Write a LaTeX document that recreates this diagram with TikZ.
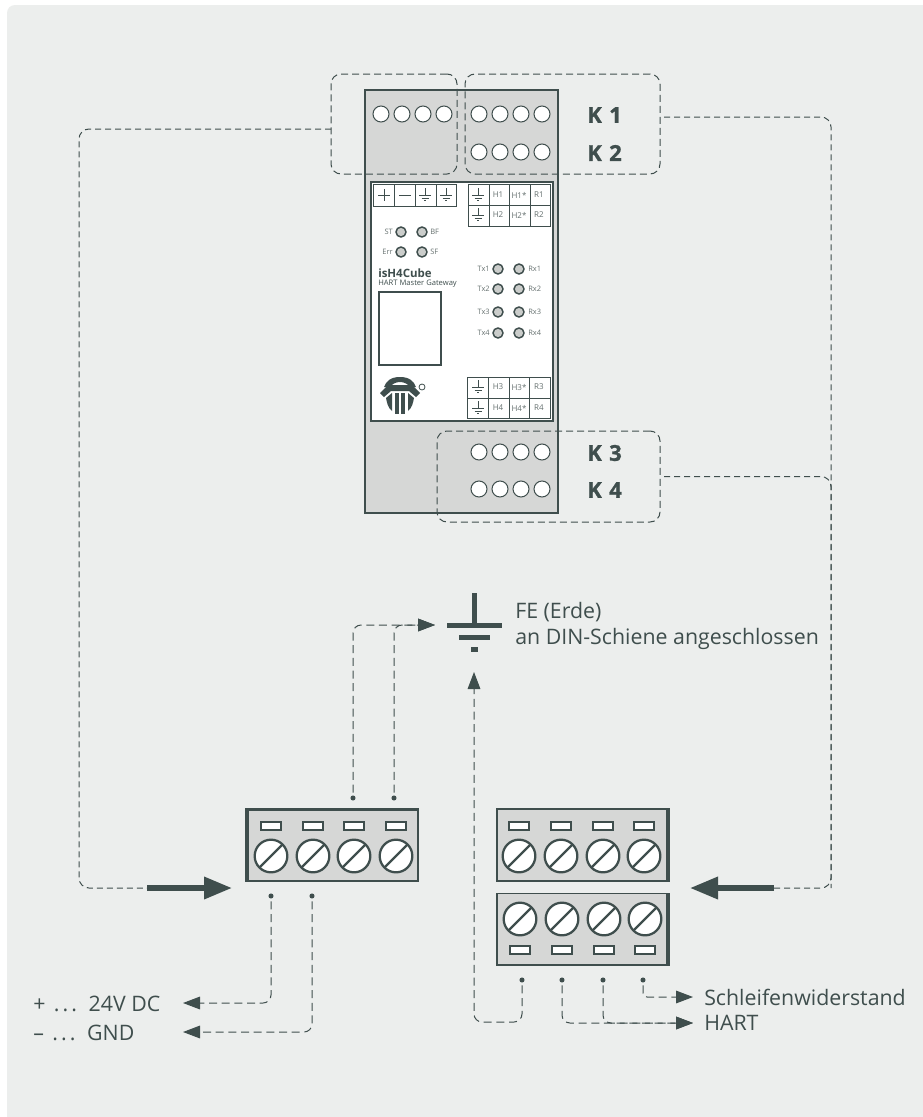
\documentclass[tikz,border=0pt]{standalone}
\usepackage{fontspec}
\setmainfont{Open Sans}
\newfontfamily\kfont{Open Sans}[BoldFeatures={FakeBold=1.2}]
\usetikzlibrary{arrows.meta}

\definecolor{panelbg}{HTML}{ECEEED}
\definecolor{devicegray}{HTML}{D6D7D6}
\definecolor{darkline}{HTML}{3F4E4D}
\definecolor{ledgray}{HTML}{CBCDCB}
\definecolor{celltext}{HTML}{667170}

\tikzset{
  kbox/.style={draw=darkline,line width=0.75pt,dash pattern=on 5.25pt off 3pt,rounded corners=7.5pt,inner sep=0pt,outer sep=0pt},
  wire/.style={draw=darkline,line width=0.75pt,dash pattern=on 4.5pt off 3pt,rounded corners=7.5pt},
  feedwire/.style={draw=darkline,line width=0.75pt,dash pattern=on 6pt off 3.5pt,rounded corners=6pt},
  smalltip/.style={-{Triangle[length=12.75pt,width=9.5pt]}},
  bigarrow/.style={draw=darkline,line width=4.2pt,-{Triangle[length=21pt,width=16pt]}},
  hole/.style={circle,draw=darkline,fill=white,line width=0.75pt,minimum size=12pt,inner sep=0pt,outer sep=0pt},
  led/.style={circle,draw=darkline,fill=ledgray,line width=1.1pt,minimum size=7.5pt,inner sep=0pt,outer sep=0pt},
  termdot/.style={circle,fill=darkline,minimum size=3.8pt,inner sep=0pt,outer sep=2.2pt},
  termblock/.style={draw=darkline,fill=devicegray,line width=0.9pt,minimum width=129pt,minimum height=54pt,inner sep=0pt,outer sep=0pt},
  slot/.style={draw=darkline,fill=white,line width=1.3pt,minimum width=14.5pt,minimum height=6.5pt,inner sep=0pt,outer sep=0pt},
  screw/.style={circle,draw=darkline,fill=white,line width=1.7pt,minimum size=24.5pt,inner sep=0pt,outer sep=0pt},
  slash/.style={draw=darkline,line width=1.7pt},
  celllabel/.style={text=celltext,font=\fontsize{6}{7}\selectfont,inner sep=0pt},
  ledlabel/.style={text=celltext,font=\fontsize{5.6}{7}\selectfont,inner sep=0pt},
  klabel/.style={text=darkline,font=\fontsize{16.5}{18}\selectfont\kfont\bfseries,anchor=west,inner sep=0pt},
  caption/.style={text=darkline,font=\fontsize{16}{18}\selectfont,anchor=west,inner sep=0pt},
  tableline/.style={draw=darkline,line width=0.7pt}
}

\newcommand{\gndmark}[2]{
  \draw [tableline] (#1,#2-7) -- (#1,#2);
  \draw [tableline] (#1-6,#2) -- (#1+6,#2);
  \draw [tableline] (#1-3.5,#2+3) -- (#1+3.5,#2+3);
  \draw [tableline] (#1-1,#2+5.5) -- (#1+1,#2+5.5);
}

\begin{document}
\begin{tikzpicture}[x=0.75pt,y=0.75pt,yscale=-1,xscale=1]
        \useasboundingbox (0,0) rectangle (922,1117);
        \fill [white] (0,0) rectangle (922,1117);
        \fill [panelbg,rounded corners=6pt] (7,5) -- (930,5) -- (930,1125) -- (7,1125) -- cycle;

        \draw [darkline,fill=devicegray,line width=1.1pt] (365,90) rectangle (558,513);
        \draw [darkline,fill=white,line width=1.1pt] (371,182) rectangle (553,421);
        \draw [darkline,line width=1.1pt] (379,292) rectangle (441,365);

        \foreach \x [count=\i] in {381,402,423,444} \node (holeP\i) [hole] at (\x,114) {};
        \foreach \x [count=\i] in {479,500,521,542} {
            \node (holeKa\i) [hole] at (\x,114) {};
            \node (holeKb\i) [hole] at (\x,152) {};
            \node (holeKc\i) [hole] at (\x,452) {};
            \node (holeKd\i) [hole] at (\x,489) {};
        }

        \node (boxPower) [kbox,minimum width=94.5pt,minimum height=75pt] at (394,124) {};
        \node (boxTop) [kbox,minimum width=146.25pt,minimum height=75pt] at (562.5,124) {};
        \node (boxBottom) [kbox,minimum width=167.25pt,minimum height=68.25pt] at (548.5,476.5) {};

        \node (labelKa) [klabel] at (587,115) {K\,\,1};
        \node (labelKb) [klabel] at (587,153) {K\,\,2};
        \node (labelKc) [klabel] at (587,453) {K\,\,3};
        \node (labelKd) [klabel] at (587,490) {K\,\,4};

        \draw [tableline] (373,184) rectangle (456,206);
        \foreach \x in {394,415,436} \draw [tableline] (\x,184) -- (\x,206);
        \draw [tableline] (378,195) -- (390,195);
        \draw [tableline] (384,189) -- (384,201);
        \draw [tableline] (399,195) -- (411,195);
        \gndmark{425}{195}
        \gndmark{446}{195}

        \draw [tableline] (468,184) rectangle (550,226);
        \draw [tableline] (468,205) -- (550,205);
        \foreach \x in {489,509,530} \draw [tableline] (\x,184) -- (\x,226);
        \gndmark{478}{195}
        \gndmark{478}{215}
        \node (cellHa) [celllabel] at (498,195) {H1};
        \node (cellHb) [celllabel] at (519,195) {H1*};
        \node (cellHc) [celllabel] at (539,195) {R1};
        \node (cellHd) [celllabel] at (498,215) {H2};
        \node (cellHe) [celllabel] at (519,215) {H2*};
        \node (cellHf) [celllabel] at (539,215) {R2};

        \draw [tableline] (467,377) rectangle (550,418);
        \draw [tableline] (467,398) -- (550,398);
        \foreach \x in {488,509,529} \draw [tableline] (\x,377) -- (\x,418);
        \gndmark{478}{387}
        \gndmark{478}{408}
        \node (cellHg) [celllabel] at (498,387) {H3};
        \node (cellHh) [celllabel] at (519,387) {H3*};
        \node (cellHi) [celllabel] at (539,387) {R3};
        \node (cellHj) [celllabel] at (498,408) {H4};
        \node (cellHk) [celllabel] at (519,408) {H4*};
        \node (cellHl) [celllabel] at (539,408) {R4};

        \node (ledST) [led] at (401,232) {};
        \node (ledBF) [led] at (422,232) {};
        \node (ledErr) [led] at (401,252) {};
        \node (ledSF) [led] at (422,252) {};
        \node (textST) [ledlabel,anchor=east] at (393,232) {ST};
        \node (textBF) [ledlabel,anchor=west] at (430,232) {BF};
        \node (textErr) [ledlabel,anchor=east] at (393,252) {Err};
        \node (textSF) [ledlabel,anchor=west] at (430,252) {SF};

        \foreach \y [count=\i] in {269,289,312,333} {
            \node (ledTx\i) [led] at (498,\y) {};
            \node (ledRx\i) [led] at (519,\y) {};
            \node (textTx\i) [ledlabel,anchor=east] at (490,\y) {Tx\i};
            \node (textRx\i) [ledlabel,anchor=west] at (528,\y) {Rx\i};
        }

        \node (nameCube) [text=darkline,font=\fontsize{8.6}{10}\selectfont\bfseries,anchor=west,inner sep=0pt] at (378,273) {isH4Cube};
        \node (nameSub) [text=darkline,font=\fontsize{5.7}{7}\selectfont,anchor=west,inner sep=0pt] at (378,284) {HART Master Gateway};

        \fill [darkline] (400,377) .. controls (391,377) and (386,381) .. (384,387) -- (390,387) .. controls (392,384) and (396,382) .. (400,382) .. controls (404,382) and (408,384) .. (410,387) -- (416,387) .. controls (414,381) and (409,377) .. (400,377) -- cycle;
        \fill [darkline] (380,393) -- (388,385) -- (412,385) -- (420,393) -- (416,397) -- (409,391) -- (391,391) -- (384,397) -- cycle;
        \fill [darkline] (395,393) rectangle (399,414);
        \fill [darkline] (401,393) rectangle (405,414);
        \fill [darkline] (386,398) -- (392,393) -- (392,411) .. controls (388,408) and (387,403) .. (386,398) -- cycle;
        \fill [darkline] (414,398) -- (408,393) -- (408,411) .. controls (412,408) and (413,403) .. (414,398) -- cycle;
        \node (logoMark) [circle,draw=darkline,line width=0.6pt,minimum size=4.5pt,inner sep=0pt] at (422,387) {};

        \fill [darkline] (471.5,593) rectangle (476.5,625);
        \fill [darkline] (447,622.5) rectangle (502,628);
        \fill [darkline] (459,634.5) rectangle (490,639.5);
        \fill [darkline] (471,646.5) rectangle (478,651.5);
        \node (labelFE) [caption] at (515,612) {FE (Erde)};
        \node (labelRail) [caption] at (515,639) {an DIN-Schiene angeschlossen};

        \node (blockPower) [termblock] at (332,845) {};
        \node (blockUpper) [termblock] at (583,845) {};
        \node (blockLower) [termblock] at (583,929.5) {};
        \fill [darkline] (246,809) rectangle (249,881);
        \fill [darkline] (246,808) rectangle (418,811);
        \fill [darkline] (666,809) rectangle (669,881);
        \fill [darkline] (666,893) rectangle (669,966);
        \fill [darkline] (497,964) rectangle (669,966);

        \foreach \x [count=\i] in {271,313,354,396} {
            \node (slotA\i) [slot] at (\x,826) {};
            \node (screwA\i) [screw] at (\x,856) {};
            \draw [slash] (screwA\i.south west) -- (screwA\i.north east);
        }
        \foreach \x [count=\i] in {519,561,603,644} {
            \node (slotB\i) [slot] at (\x,826) {};
            \node (screwB\i) [screw] at (\x,856) {};
            \draw [slash] (screwB\i.south west) -- (screwB\i.north east);
            \node (slotC\i) [slot] at (\x+1,950) {};
            \node (screwC\i) [screw] at (\x+1,919) {};
            \draw [slash] (screwC\i.south west) -- (screwC\i.north east);
        }

        \node (dotFa) [termdot] at (353,798) {};
        \node (dotFb) [termdot] at (394,798) {};
        \node (dotPa) [termdot] at (271,896) {};
        \node (dotPb) [termdot] at (312,896) {};
        \node (dotHa) [termdot] at (522,980) {};
        \node (dotHb) [termdot] at (562,980) {};
        \node (dotHc) [termdot] at (603,980) {};
        \node (dotHd) [termdot] at (643,980) {};

        \coordinate (feIn) at (435,625);
        \coordinate (feTurn) at (474,1022);
        \coordinate (feUp) at (474,672);
        \coordinate (leftTurn) at (79,888);
        \coordinate (leftIn) at (147,888);
        \coordinate (leftTip) at (232,888);
        \coordinate (rightTurn) at (831,888);
        \coordinate (rightIn) at (774,888);
        \coordinate (rightTip) at (690,888);
        \coordinate (plusTip) at (183,1003);
        \coordinate (gndTip) at (183,1032);
        \coordinate (loopTip) at (693,997);
        \coordinate (hartTip) at (693,1023);

        \draw [feedwire,smalltip] (dotFa) |- (feIn);
        \draw [feedwire,smalltip] (dotFb) |- (feIn);
        \draw [feedwire,smalltip] (dotHa) |- (feTurn) -- (feUp);
        \draw [feedwire,smalltip] (dotPa) |- (plusTip);
        \draw [feedwire,smalltip] (dotPb) |- (gndTip);
        \draw [feedwire,smalltip,rounded corners=3pt] (dotHd) |- (loopTip);
        \draw [feedwire,smalltip] (dotHb) |- (hartTip);
        \draw [feedwire,smalltip] (dotHc) |- (hartTip);

        \draw [wire] ([yshift=3.75pt]boxPower.west) -| (leftTurn) -- (leftIn);
        \draw [wire] ([yshift=-5.25pt,xshift=3pt]boxTop.east) -| (rightTurn) -- (rightIn);
        \draw [wire] ([xshift=3pt]boxBottom.east) -| (rightTurn);
        \draw [bigarrow] (leftIn) -- (leftTip);
        \draw [bigarrow] (rightIn) -- (rightTip);

        \node (labelPlus) [caption] at (33,1004) {+\hspace{0.4em}.\hspace{0.14em}.\hspace{0.14em}.\hspace{0.55em}24V DC};
        \node (labelGnd) [caption] at (33,1033) {--\hspace{0.4em}.\hspace{0.14em}.\hspace{0.14em}.\hspace{0.55em}GND};
        \node (labelLoop) [caption] at (704,997) {Schleifenwiderstand};
        \node (labelHart) [caption] at (704,1023) {HART};
    \end{tikzpicture}
\end{document}
